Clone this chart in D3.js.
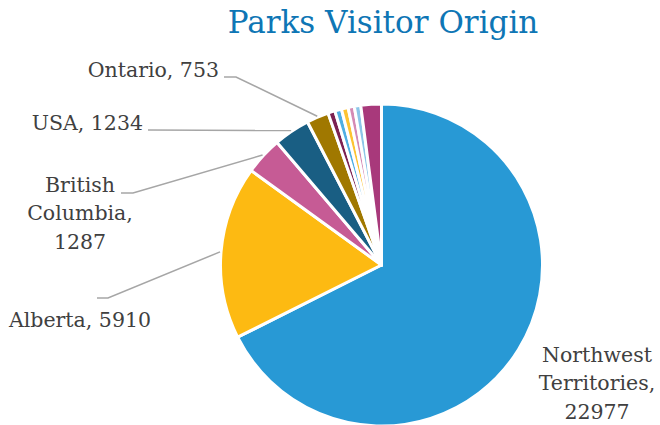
<!DOCTYPE html>
<html>
<head>
<meta charset="utf-8">
<script src="https://cdn.jsdelivr.net/npm/d3@7"></script>
<style>
  html, body { margin: 0; padding: 0; background: #fff; }
  svg { display: block; }
  text { font-family: "DejaVu Serif", serif; }
</style>
</head>
<body>
<svg id="chart" width="660" height="425"></svg>
<script>
// Visitor origin counts, in slice order (clockwise from 12 o'clock)
const categories = ["Northwest Territories", "Alberta", "British Columbia", "USA", "Ontario",
                    "Other 1", "Other 2", "Other 3", "Other 4", "Other 5", "Other 6"];
const visitors   = [22977, 5910, 1287, 1234, 753, 240, 230, 230, 210, 220, 700];
const sliceColors = ["#2899d5", "#fdba12", "#c65b95", "#195e83", "#a07800",
                     "#7b2152", "#4faee3", "#fdc332", "#d48ab4", "#8cc5e8", "#a8397b"];

// Labelled slices: text lines and where the label block sits
const labels = [
  { index: 0, lines: ["Northwest", "Territories,", "22977"], x: 597, y: 362, anchor: "middle", leader: null },
  { index: 1, lines: ["Alberta, 5910"], x: 80, y: 327, anchor: "middle", leader: [[97, 298], [108, 298]] },
  { index: 2, lines: ["British", "Columbia,", "1287"], x: 80, y: 192, anchor: "middle", leader: [[121, 193], [133, 193]] },
  { index: 3, lines: ["USA, 1234"], x: 143, y: 130, anchor: "end", leader: [[148, 130]] },
  { index: 4, lines: ["Ontario, 753"], x: 219, y: 77, anchor: "end", leader: [[224, 77], [236, 77]] }
];

const svg = d3.select("#chart");
const cx = 381.5, cy = 265, radius = 161;

svg.append("text")
  .attr("x", 383).attr("y", 33)
  .attr("text-anchor", "middle")
  .attr("font-size", 31)
  .attr("fill", "#0e76b5")
  .text("Parks Visitor Origin");

const pie = d3.pie().sort(null).value(d => d)(visitors);
const arc = d3.arc().innerRadius(0).outerRadius(radius);
const edge = d3.arc().innerRadius(radius + 1).outerRadius(radius + 1);

const g = svg.append("g").attr("transform", `translate(${cx},${cy})`);
g.selectAll("path.slice")
  .data(pie)
  .join("path")
  .attr("class", "slice")
  .attr("d", arc)
  .attr("fill", (d, i) => sliceColors[i])
  .attr("stroke", "#fff")
  .attr("stroke-width", 3)
  .attr("stroke-linejoin", "round");

// Leader lines run from the label to the slice's outer edge at its mid angle
const line = d3.line();
labels.forEach(l => {
  if (!l.leader) return;
  const c = edge.centroid(pie[l.index]);
  const pts = l.leader.concat([[cx + c[0], cy + c[1]]]);
  svg.append("path")
    .attr("d", line(pts))
    .attr("fill", "none")
    .attr("stroke", "#a6a6a6")
    .attr("stroke-width", 1.5);
});

labels.forEach(l => {
  const t = svg.append("text")
    .attr("x", l.x).attr("y", l.y)
    .attr("text-anchor", l.anchor)
    .attr("font-size", 20.5)
    .attr("fill", "#404040");
  l.lines.forEach((s, k) => {
    t.append("tspan").attr("x", l.x).attr("dy", k === 0 ? 0 : 28.3).text(s);
  });
});
</script>
</body>
</html>
